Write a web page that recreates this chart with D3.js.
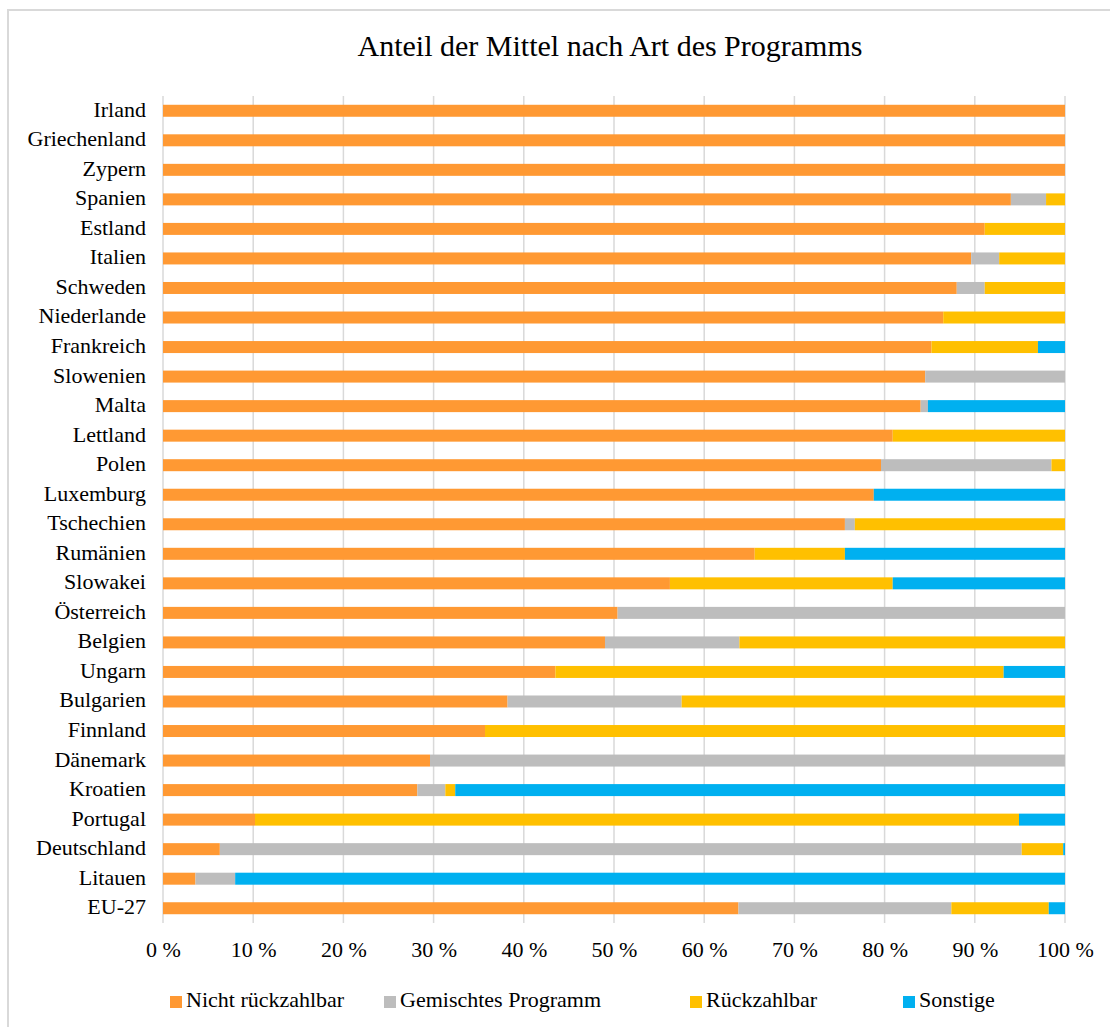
<!DOCTYPE html>
<html>
<head>
<meta charset="utf-8">
<script src="https://cdn.jsdelivr.net/npm/d3@7"></script>
<style>
  body { margin: 0; background: #fff; }
  svg text { font-family: "Liberation Serif", "Times New Roman", serif; fill: #000; }
</style>
</head>
<body>
<svg id="chart"></svg>
<script>
// Data (percent of funds)
const countries = ["Irland", "Griechenland", "Zypern", "Spanien", "Estland", "Italien", "Schweden",
  "Niederlande", "Frankreich", "Slowenien", "Malta", "Lettland", "Polen", "Luxemburg", "Tschechien",
  "Rumänien", "Slowakei", "Österreich", "Belgien", "Ungarn", "Bulgarien", "Finnland", "Dänemark",
  "Kroatien", "Portugal", "Deutschland", "Litauen", "EU-27"];

const nichtRueckzahlbar = [100, 100, 100, 94.0, 91.1, 89.6, 88.0, 86.5, 85.2, 84.5, 84.0, 80.9, 79.6, 78.8,
  75.6, 65.6, 56.2, 50.4, 49.0, 43.5, 38.2, 35.7, 29.6, 28.2, 10.2, 6.3, 3.6, 63.8];
const gemischt = [0, 0, 0, 3.9, 0, 3.1, 3.1, 0, 0, 15.5, 0.8, 0, 18.9, 0,
  1.1, 0, 0, 49.6, 14.9, 0, 19.3, 0, 70.4, 3.1, 0, 88.9, 4.4, 23.6];
const rueckzahlbar = [0, 0, 0, 2.1, 8.9, 7.3, 8.9, 13.5, 11.8, 0, 0, 19.1, 1.5, 0,
  23.3, 10.0, 24.7, 0, 36.1, 49.7, 42.5, 64.3, 0, 1.1, 84.7, 4.6, 0, 10.8];
const sonstige = [0, 0, 0, 0, 0, 0, 0, 0, 3.0, 0, 15.2, 0, 0, 21.2,
  0, 24.4, 19.1, 0, 0, 6.8, 0, 0, 0, 67.6, 5.1, 0.2, 92.0, 1.8];

const seriesNames = ["Nicht rückzahlbar", "Gemischtes Programm", "Rückzahlbar", "Sonstige"];
const tickValues = [0, 10, 20, 30, 40, 50, 60, 70, 80, 90, 100];
const chartTitle = "Anteil der Mittel nach Art des Programms";

class StackedBars {

  constructor(_config) {
    this.config = {
      parentElement: _config.parentElement,
      containerWidth: _config.containerWidth || 1110,
      containerHeight: _config.containerHeight || 1027,
      margin: { top: 96, bottom: 104, right: 45, left: 163 }
    }
    this.initVis();
  }

  initVis() {
    let vis = this;

    vis.colors = ["#FF9933", "#BDBDBD", "#FFC000", "#00B0F0"];

    vis.width = vis.config.containerWidth - vis.config.margin.left - vis.config.margin.right;
    vis.height = vis.config.containerHeight - vis.config.margin.top - vis.config.margin.bottom;

    vis.svg = d3.select(document.getElementById(vis.config.parentElement))
        .attr('width', vis.config.containerWidth)
        .attr('height', vis.config.containerHeight);

    // chart area border (runs off the right and bottom of the picture)
    vis.svg.append('rect')
        .attr('x', 8)
        .attr('y', 10)
        .attr('width', 1210)
        .attr('height', 1040)
        .attr('fill', '#fff')
        .attr('stroke', '#D9D9D9')
        .attr('stroke-width', 2);

    vis.chart = vis.svg.append('g')
        .attr('transform', `translate(${vis.config.margin.left},${vis.config.margin.top})`);

    vis.xScale = d3.scaleLinear()
        .domain([0, 100])
        .range([0, vis.width]);

    vis.yScale = d3.scaleBand()
        .domain(countries)
        .range([0, vis.height])
        .paddingInner(0.594)
        .paddingOuter(0.297);

    // Gridlines
    vis.chart.append('g')
        .selectAll('line')
        .data(tickValues)
        .join('line')
          .attr('x1', d => vis.xScale(d))
          .attr('x2', d => vis.xScale(d))
          .attr('y1', 0)
          .attr('y2', vis.height)
          .attr('stroke', '#D9D9D9')
          .attr('stroke-width', 1.5);

    // Title
    vis.svg.append('text')
        .attr('x', 610)
        .attr('y', 56)
        .attr('text-anchor', 'middle')
        .attr('font-size', 30)
        .text(chartTitle);

    vis.renderVis();
  }

  renderVis() {
    let vis = this;

    const rows = countries.map((c, i) => ({
      country: c,
      s0: nichtRueckzahlbar[i],
      s1: gemischt[i],
      s2: rueckzahlbar[i],
      s3: sonstige[i]
    }));

    const stacked = d3.stack().keys(["s0", "s1", "s2", "s3"])(rows);

    vis.chart.append('g').selectAll('g')
      .data(stacked)
      .join('g')
        .attr('fill', (d, i) => vis.colors[i])
      .selectAll('rect')
      .data(d => d.filter(p => p[1] - p[0] > 0))
      .join('rect')
        .attr('x', d => vis.xScale(d[0]))
        .attr('y', d => vis.yScale(d.data.country))
        .attr('width', d => vis.xScale(d[1]) - vis.xScale(d[0]))
        .attr('height', vis.yScale.bandwidth());

    // Category axis (labels only)
    const yAxis = d3.axisLeft(vis.yScale).tickSize(0).tickPadding(17);
    const yAxisG = vis.chart.append('g').call(yAxis);
    yAxisG.select('.domain').remove();
    yAxisG.selectAll('text')
        .attr('font-size', 22)
        .attr('font-family', null)
        .attr('dy', '0.27em');

    // Value axis (labels only)
    const xAxis = d3.axisBottom(vis.xScale)
        .tickValues(tickValues)
        .tickFormat(d => d + " %")
        .tickSize(0)
        .tickPadding(0);
    const xAxisG = vis.chart.append('g')
        .attr('transform', `translate(0,${vis.height})`)
        .call(xAxis);
    xAxisG.select('.domain').remove();
    xAxisG.selectAll('text')
        .attr('font-size', 22)
        .attr('font-family', null)
        .attr('dy', null)
        .attr('y', 34);

    // Legend
    const legendX = [170, 384, 690, 903];
    const legend = vis.svg.append('g').selectAll('g')
      .data(seriesNames)
      .join('g')
        .attr('transform', (d, i) => `translate(${legendX[i]},996)`);
    legend.append('rect')
        .attr('width', 12)
        .attr('height', 12)
        .attr('fill', (d, i) => vis.colors[i]);
    legend.append('text')
        .attr('x', 16)
        .attr('y', 11)
        .attr('font-size', 22)
        .text(d => d);
  }
}

new StackedBars({ parentElement: 'chart' });
</script>
</body>
</html>
